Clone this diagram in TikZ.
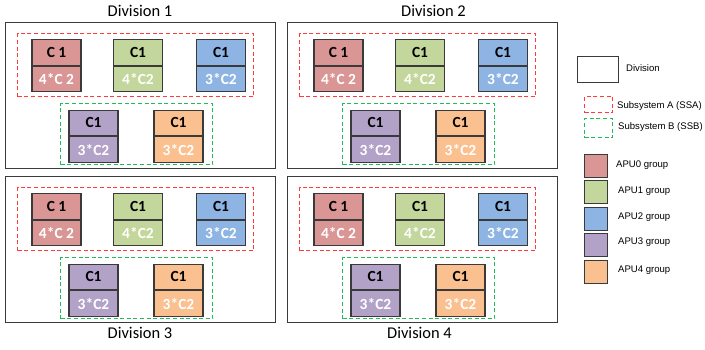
\documentclass[tikz,border=0pt]{standalone}
\usepackage{fontspec}
\setmainfont{Carlito}
\newfontfamily\arialf{Liberation Sans}
\definecolor{apu0}{HTML}{D99694}
\definecolor{apu1}{HTML}{C3D69B}
\definecolor{apu2}{HTML}{8EB4E3}
\definecolor{apu3}{HTML}{B3A2C7}
\definecolor{apu4}{HTML}{FAC090}
\definecolor{edge}{HTML}{3A3A3A}
\definecolor{ssared}{HTML}{FF3B3B}
\definecolor{ssbgreen}{HTML}{22BB5A}
\tikzset{
  divbox/.style={draw=edge, line width=1.2bp, inner sep=0pt},
  ssabox/.style={draw=ssared, line width=1.4bp, dash pattern=on 4bp off 2.6bp, inner sep=0pt},
  ssbbox/.style={draw=ssbgreen, line width=1.4bp, dash pattern=on 4bp off 2.6bp, inner sep=0pt},
  cell/.style={draw=edge, line width=1.2bp, minimum width=49bp, minimum height=25.5bp, inner sep=0pt,
    font=\bfseries\fontsize{15.5}{16}\selectfont},
  legsq/.style={draw=edge, line width=1.2bp, minimum width=23bp, minimum height=23bp, inner sep=0pt, anchor=north west},
  legtext/.style={font=\arialf\fontsize{9.6}{11}\selectfont, inner sep=0pt, anchor=west},
  divtitle/.style={font=\fontsize{16.5}{18}\selectfont, inner sep=0pt},
}
\newcommand\apucell[6]{%
  \node[cell, fill=#4, anchor=north] (#1t) at (#2,#3) {#5};
  \node[cell, fill=#4, text=white, anchor=north] (#1b) at (#1t.south) {#6};
}
\newcommand\drawdiv[3]{%
  \begin{scope}[shift={(#2,#3)}]
    \node[divbox, minimum width=270.3bp, minimum height=146bp, anchor=north west] (#1) at (4.7,22) {};
    \node[ssabox, minimum width=236bp, minimum height=63bp, anchor=north west] (#1ssa) at (17,33) {};
    \node[ssbbox, minimum width=152bp, minimum height=61bp, anchor=north west] (#1ssb) at (60,103) {};
    \apucell{#1p0}{56.5}{39}{apu0}{C 1}{4*C 2}
    \apucell{#1p1}{138}{39}{apu1}{C1}{4*C2}
    \apucell{#1p2}{221}{39}{apu2}{C1}{3*C2}
    \apucell{#1p3}{93.5}{109.5}{apu3}{C1}{3*C2}
    \apucell{#1p4}{178.5}{109.5}{apu4}{C1}{3*C2}
  \end{scope}
}
\begin{document}
\begin{tikzpicture}[x=1bp, y=-1bp]
  \fill[white] (0,0) rectangle (705,349);
  \useasboundingbox (0,0) rectangle (705,349);
  \drawdiv{da}{0}{0}
  \drawdiv{db}{282}{0}
  \drawdiv{dc}{0}{154}
  \drawdiv{dd}{282}{154}
  \node[divtitle] (ta) at (140,11) {Division 1};
  \node[divtitle] (tb) at (433.5,10.5) {Division 2};
  \node[divtitle] (tc) at (140,333) {Division 3};
  \node[divtitle] (td) at (419.5,332.5) {Division 4};
  % legend
  \node[divbox, minimum width=41bp, minimum height=26bp, anchor=north west] (lgdiv) at (577,56) {};
  \node[legtext] (lgdivt) at (626,68) {Division};
  \node[ssabox, minimum width=28bp, minimum height=16bp, anchor=north west] (lgssa) at (584,96) {};
  \node[legtext] (lgssat) at (617,106) {Subsystem A (SSA)};
  \node[ssbbox, minimum width=28bp, minimum height=19bp, anchor=north west] (lgssb) at (584,118) {};
  \node[legtext] (lgssbt) at (618,127) {Subsystem B (SSB)};
  \node[legsq, fill=apu0] (lg0) at (584,154) {};
  \node[legtext] (lg0t) at (616,165) {APU0 group};
  \node[legsq, fill=apu1] (lg1) at (584,180) {};
  \node[legtext] (lg1t) at (618,191) {APU1 group};
  \node[legsq, fill=apu2] (lg2) at (584,206.5) {};
  \node[legtext] (lg2t) at (618,217) {APU2 group};
  \node[legsq, fill=apu3] (lg3) at (584,233) {};
  \node[legtext] (lg3t) at (618,242.5) {APU3 group};
  \node[legsq, fill=apu4] (lg4) at (584,260) {};
  \node[legtext] (lg4t) at (618,270) {APU4 group};
\end{tikzpicture}
\end{document}
